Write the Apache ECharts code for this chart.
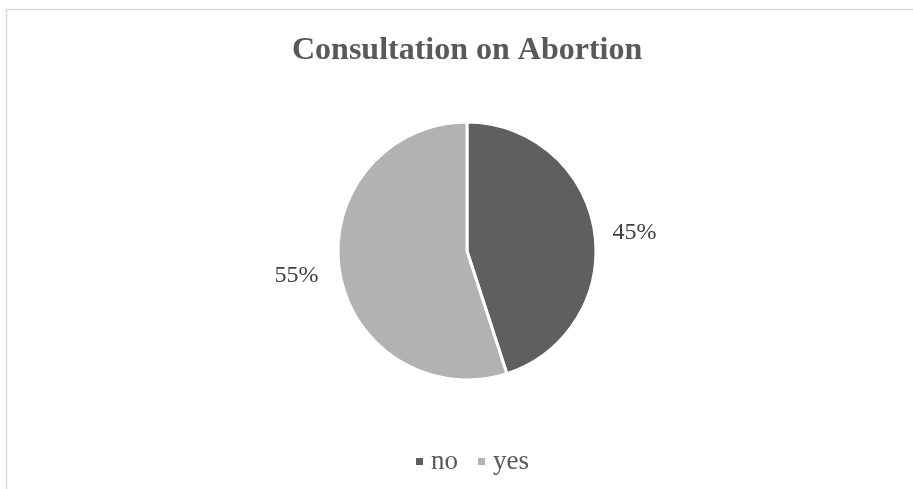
<!DOCTYPE html>
<html>
<head>
<meta charset="utf-8">
<script src="https://cdn.jsdelivr.net/npm/echarts@6/dist/echarts.min.js"></script>
<style>
  html, body { margin: 0; padding: 0; background: #fff; }
  #chart { width: 913px; height: 489px; }
</style>
</head>
<body>
<div id="chart"></div>
<script>
// data
const categories = ['no', 'yes'];
const shares = [45, 55];
const sliceColors = ['#5f5f5f', '#b2b2b2'];

const chart = echarts.init(document.getElementById('chart'));

const option = {
  backgroundColor: '#fff',
  animation: false,
  title: {
    text: 'Consultation on Abortion',
    left: 287,
    top: 30,
    textStyle: {
      fontFamily: 'Liberation Serif',
      fontWeight: 'bold',
      fontSize: 32,
      color: '#595959'
    }
  },
  legend: {
    data: categories,
    left: 409,
    top: 443,
    icon: 'rect',
    itemWidth: 9,
    itemHeight: 9,
    itemGap: 18,
    textStyle: {
      fontFamily: 'Liberation Serif',
      fontSize: 27,
      color: '#595959',
      padding: [0, 0, 0, 2]
    }
  },
  // chart area border (only top and left edges fall inside the picture)
  graphic: [{
    type: 'rect',
    shape: { x: 6.5, y: 9.5, width: 1000, height: 1000 },
    style: { fill: null, stroke: '#d9d9d9', lineWidth: 1.5 },
    silent: true
  }],
  series: [{
    type: 'pie',
    center: [467, 251],
    radius: 129,
    startAngle: 90,
    clockwise: true,
    data: categories.map((name, i) => ({
      name: name,
      value: shares[i],
      itemStyle: { color: sliceColors[i] }
    })),
    itemStyle: { borderColor: '#fff', borderWidth: 3 },
    label: {
      show: true,
      position: 'outside',
      formatter: '{c}%',
      fontFamily: 'Liberation Serif',
      fontSize: 24,
      color: '#404040',
      distanceToLabelLine: 4
    },
    labelLine: { show: false, length: 0, length2: 14 },
    labelLayout: function (params) {
      return params.dataIndex === 1 ? { dx: -3, dy: 5 } : { dy: 2 };
    },
    emphasis: { disabled: true }
  }]
};

chart.setOption(option);
</script>
</body>
</html>
